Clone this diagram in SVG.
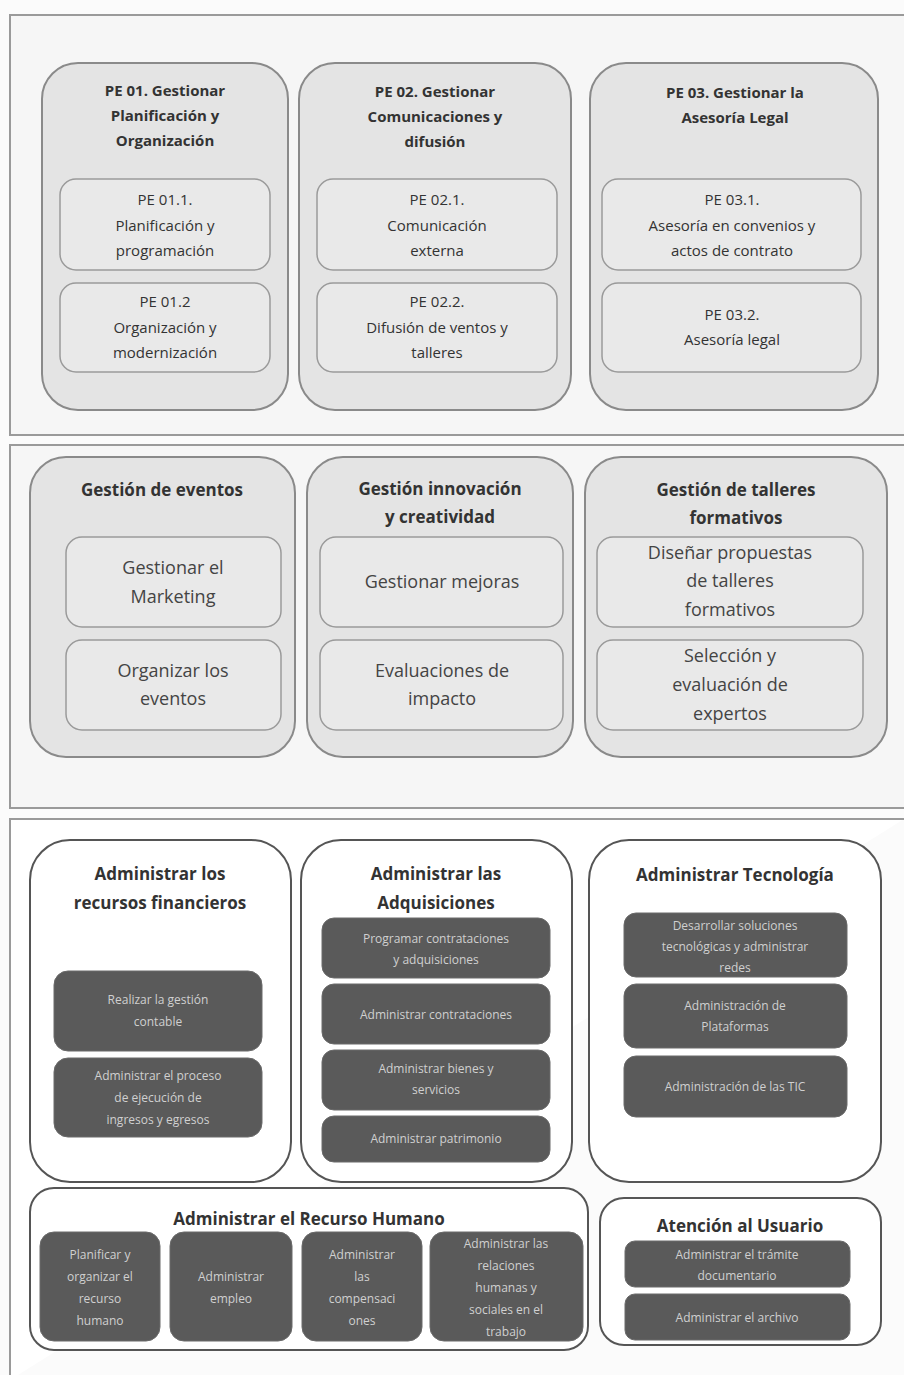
<svg xmlns="http://www.w3.org/2000/svg" width="904" height="1375" viewBox="0 0 904 1375">
<style>
.frame{fill:#f6f6f6;stroke:#9a9a9a;stroke-width:2}
.col{fill:#e4e4e4;stroke:#8a8a8a;stroke-width:2}
.inner{fill:#e9e9e9;stroke:#9a9a9a;stroke-width:1.5}
.wcol{fill:#ffffff;stroke:#555;stroke-width:2}
.dark{fill:#5a5a5a;stroke:#6a6a6a;stroke-width:1}
.t1{font-family:"Open Sans","Noto Sans",sans-serif;font-size:15px;font-weight:bold;fill:#333;text-anchor:middle}
.t1r{font-family:"Open Sans","Noto Sans",sans-serif;font-size:15px;fill:#333;text-anchor:middle}
.t2{font-family:"Open Sans","Noto Sans",sans-serif;font-size:17px;font-weight:bold;fill:#333;text-anchor:middle}
.t2r{font-family:"Open Sans","Noto Sans",sans-serif;font-size:18px;fill:#444;text-anchor:middle}
.t3{font-family:"Open Sans","Noto Sans",sans-serif;font-size:17px;font-weight:bold;fill:#333;text-anchor:middle}
.td{font-family:"Open Sans","Noto Sans",sans-serif;font-size:12px;fill:#d0d0d0;text-anchor:middle}
</style>
<rect x="0" y="0" width="904" height="1375" fill="#fbfbfb"/>
<!-- Section frames -->
<path class="frame" d="M904,15 H10 V435 H904"/>
<path class="frame" d="M904,445 H10 V808 H904"/>
<path d="M904,819 H10 V1380" fill="#ffffff" stroke="#9a9a9a" stroke-width="2"/>

<!-- Section 1 -->
<g id="pe01">
<rect class="col" x="42" y="63" width="246" height="347" rx="36"/>
<text class="t1" x="165" y="96">PE 01. Gestionar</text>
<text class="t1" x="165" y="121">Planificación y</text>
<text class="t1" x="165" y="146">Organización</text>
</g>
<g id="pe011">
<rect class="inner" x="60" y="179" width="210" height="91" rx="16"/>
<text class="t1r" x="165" y="205">PE 01.1.</text>
<text class="t1r" x="165" y="231">Planificación y</text>
<text class="t1r" x="165" y="256">programación</text>
</g>
<g id="pe012">
<rect class="inner" x="60" y="283" width="210" height="89" rx="16"/>
<text class="t1r" x="165" y="307">PE 01.2</text>
<text class="t1r" x="165" y="333">Organización y</text>
<text class="t1r" x="165" y="358">modernización</text>
</g>
<g id="pe02">
<rect class="col" x="299" y="63" width="272" height="347" rx="36"/>
<text class="t1" x="435" y="97">PE 02. Gestionar</text>
<text class="t1" x="435" y="122">Comunicaciones y</text>
<text class="t1" x="435" y="147">difusión</text>
</g>
<g id="pe021">
<rect class="inner" x="317" y="179" width="240" height="91" rx="16"/>
<text class="t1r" x="437" y="205">PE 02.1.</text>
<text class="t1r" x="437" y="231">Comunicación</text>
<text class="t1r" x="437" y="256">externa</text>
</g>
<g id="pe022">
<rect class="inner" x="317" y="283" width="240" height="89" rx="16"/>
<text class="t1r" x="437" y="307">PE 02.2.</text>
<text class="t1r" x="437" y="333">Difusión de ventos y</text>
<text class="t1r" x="437" y="358">talleres</text>
</g>
<g id="pe03">
<rect class="col" x="590" y="63" width="288" height="347" rx="36"/>
<text class="t1" x="735" y="98">PE 03. Gestionar la</text>
<text class="t1" x="735" y="123">Asesoría Legal</text>
</g>
<g id="pe031">
<rect class="inner" x="602" y="179" width="259" height="91" rx="16"/>
<text class="t1r" x="732" y="205">PE 03.1.</text>
<text class="t1r" x="732" y="231">Asesoría en convenios y</text>
<text class="t1r" x="732" y="256">actos de contrato</text>
</g>
<g id="pe032">
<rect class="inner" x="602" y="283" width="259" height="89" rx="16"/>
<text class="t1r" x="732" y="320">PE 03.2.</text>
<text class="t1r" x="732" y="345">Asesoría legal</text>
</g>

<!-- Section 2 -->
<g id="eventos">
<rect class="col" x="30" y="457" width="265" height="300" rx="36"/>
<text class="t2" x="162" y="496">Gestión de eventos</text>
</g>
<g id="marketing">
<rect class="inner" x="66" y="537" width="215" height="90" rx="16"/>
<text class="t2r" x="173" y="574">Gestionar el</text>
<text class="t2r" x="173" y="603">Marketing</text>
</g>
<g id="organizar">
<rect class="inner" x="66" y="640" width="215" height="90" rx="16"/>
<text class="t2r" x="173" y="677">Organizar los</text>
<text class="t2r" x="173" y="705">eventos</text>
</g>
<g id="innovacion">
<rect class="col" x="307" y="457" width="266" height="300" rx="36"/>
<text class="t2" x="440" y="495">Gestión innovación</text>
<text class="t2" x="440" y="523">y creatividad</text>
</g>
<g id="mejoras">
<rect class="inner" x="320" y="537" width="243" height="90" rx="16"/>
<text class="t2r" x="442" y="588">Gestionar mejoras</text>
</g>
<g id="impacto">
<rect class="inner" x="320" y="640" width="243" height="90" rx="16"/>
<text class="t2r" x="442" y="677">Evaluaciones de</text>
<text class="t2r" x="442" y="705">impacto</text>
</g>
<g id="talleres">
<rect class="col" x="585" y="457" width="302" height="300" rx="36"/>
<text class="t2" x="736" y="496">Gestión de talleres</text>
<text class="t2" x="736" y="524">formativos</text>
</g>
<g id="disenar">
<rect class="inner" x="597" y="537" width="266" height="90" rx="16"/>
<text class="t2r" x="730" y="559">Diseñar propuestas</text>
<text class="t2r" x="730" y="587">de talleres</text>
<text class="t2r" x="730" y="616">formativos</text>
</g>
<g id="seleccion">
<rect class="inner" x="597" y="640" width="266" height="90" rx="16"/>
<text class="t2r" x="730" y="662">Selección y</text>
<text class="t2r" x="730" y="691">evaluación de</text>
<text class="t2r" x="730" y="720">expertos</text>
</g>

<!-- Section 3 -->
<g id="financieros">
<rect class="wcol" x="30" y="840" width="261" height="342" rx="40"/>
<text class="t3" x="160" y="880">Administrar los</text>
<text class="t3" x="160" y="909">recursos financieros</text>
</g>
<g id="contable">
<rect class="dark" x="54" y="971" width="208" height="80" rx="14"/>
<text class="td" x="158" y="1004">Realizar la gestión</text>
<text class="td" x="158" y="1026">contable</text>
</g>
<g id="ejecucion">
<rect class="dark" x="54" y="1058" width="208" height="79" rx="14"/>
<text class="td" x="158" y="1080">Administrar el proceso</text>
<text class="td" x="158" y="1102">de ejecución de</text>
<text class="td" x="158" y="1124">ingresos y egresos</text>
</g>
<g id="adquisiciones">
<rect class="wcol" x="301" y="840" width="271" height="342" rx="40"/>
<text class="t3" x="436" y="880">Administrar las</text>
<text class="t3" x="436" y="909">Adquisiciones</text>
</g>
<g id="programar">
<rect class="dark" x="322" y="918" width="228" height="60" rx="12"/>
<text class="td" x="436" y="943">Programar contrataciones</text>
<text class="td" x="436" y="964">y adquisiciones</text>
</g>
<g id="contrataciones">
<rect class="dark" x="322" y="984" width="228" height="60" rx="12"/>
<text class="td" x="436" y="1019">Administrar contrataciones</text>
</g>
<g id="bienes">
<rect class="dark" x="322" y="1050" width="228" height="60" rx="12"/>
<text class="td" x="436" y="1073">Administrar bienes y</text>
<text class="td" x="436" y="1094">servicios</text>
</g>
<g id="patrimonio">
<rect class="dark" x="322" y="1116" width="228" height="46" rx="12"/>
<text class="td" x="436" y="1143">Administrar patrimonio</text>
</g>
<g id="tecnologia">
<rect class="wcol" x="589" y="840" width="292" height="342" rx="40"/>
<text class="t3" x="735" y="881">Administrar Tecnología</text>
</g>
<g id="soluciones">
<rect class="dark" x="624" y="913" width="223" height="64" rx="12"/>
<text class="td" x="735" y="930">Desarrollar soluciones</text>
<text class="td" x="735" y="951">tecnológicas y administrar</text>
<text class="td" x="735" y="972">redes</text>
</g>
<g id="plataformas">
<rect class="dark" x="624" y="984" width="223" height="64" rx="12"/>
<text class="td" x="735" y="1010">Administración de</text>
<text class="td" x="735" y="1031">Plataformas</text>
</g>
<g id="tic">
<rect class="dark" x="624" y="1056" width="223" height="61" rx="12"/>
<text class="td" x="735" y="1091">Administración de las TIC</text>
</g>
<g id="rrhh">
<rect class="wcol" x="30" y="1188" width="558" height="162" rx="24"/>
<text class="t3" x="309" y="1225">Administrar el Recurso Humano</text>
</g>
<g id="planificar">
<rect class="dark" x="40" y="1232" width="120" height="109" rx="14"/>
<text class="td" x="100" y="1259">Planificar y</text>
<text class="td" x="100" y="1281">organizar el</text>
<text class="td" x="100" y="1303">recurso</text>
<text class="td" x="100" y="1325">humano</text>
</g>
<g id="empleo">
<rect class="dark" x="170" y="1232" width="122" height="109" rx="14"/>
<text class="td" x="231" y="1281">Administrar</text>
<text class="td" x="231" y="1303">empleo</text>
</g>
<g id="compensaciones">
<rect class="dark" x="302" y="1232" width="120" height="109" rx="14"/>
<text class="td" x="362" y="1259">Administrar</text>
<text class="td" x="362" y="1281">las</text>
<text class="td" x="362" y="1303">compensaci</text>
<text class="td" x="362" y="1325">ones</text>
</g>
<g id="relaciones">
<rect class="dark" x="430" y="1232" width="153" height="109" rx="14"/>
<text class="td" x="506" y="1248">Administrar las</text>
<text class="td" x="506" y="1270">relaciones</text>
<text class="td" x="506" y="1292">humanas y</text>
<text class="td" x="506" y="1314">sociales en el</text>
<text class="td" x="506" y="1336">trabajo</text>
</g>
<g id="usuario">
<rect class="wcol" x="600" y="1198" width="281" height="147" rx="24"/>
<text class="t3" x="740" y="1232">Atención al Usuario</text>
</g>
<g id="tramite">
<rect class="dark" x="625" y="1241" width="225" height="46" rx="10"/>
<text class="td" x="737" y="1259">Administrar el trámite</text>
<text class="td" x="737" y="1280">documentario</text>
</g>
<g id="archivo">
<rect class="dark" x="625" y="1294" width="225" height="46" rx="10"/>
<text class="td" x="737" y="1322">Administrar el archivo</text>
</g>
<g id="connectors"></g>
</svg>
